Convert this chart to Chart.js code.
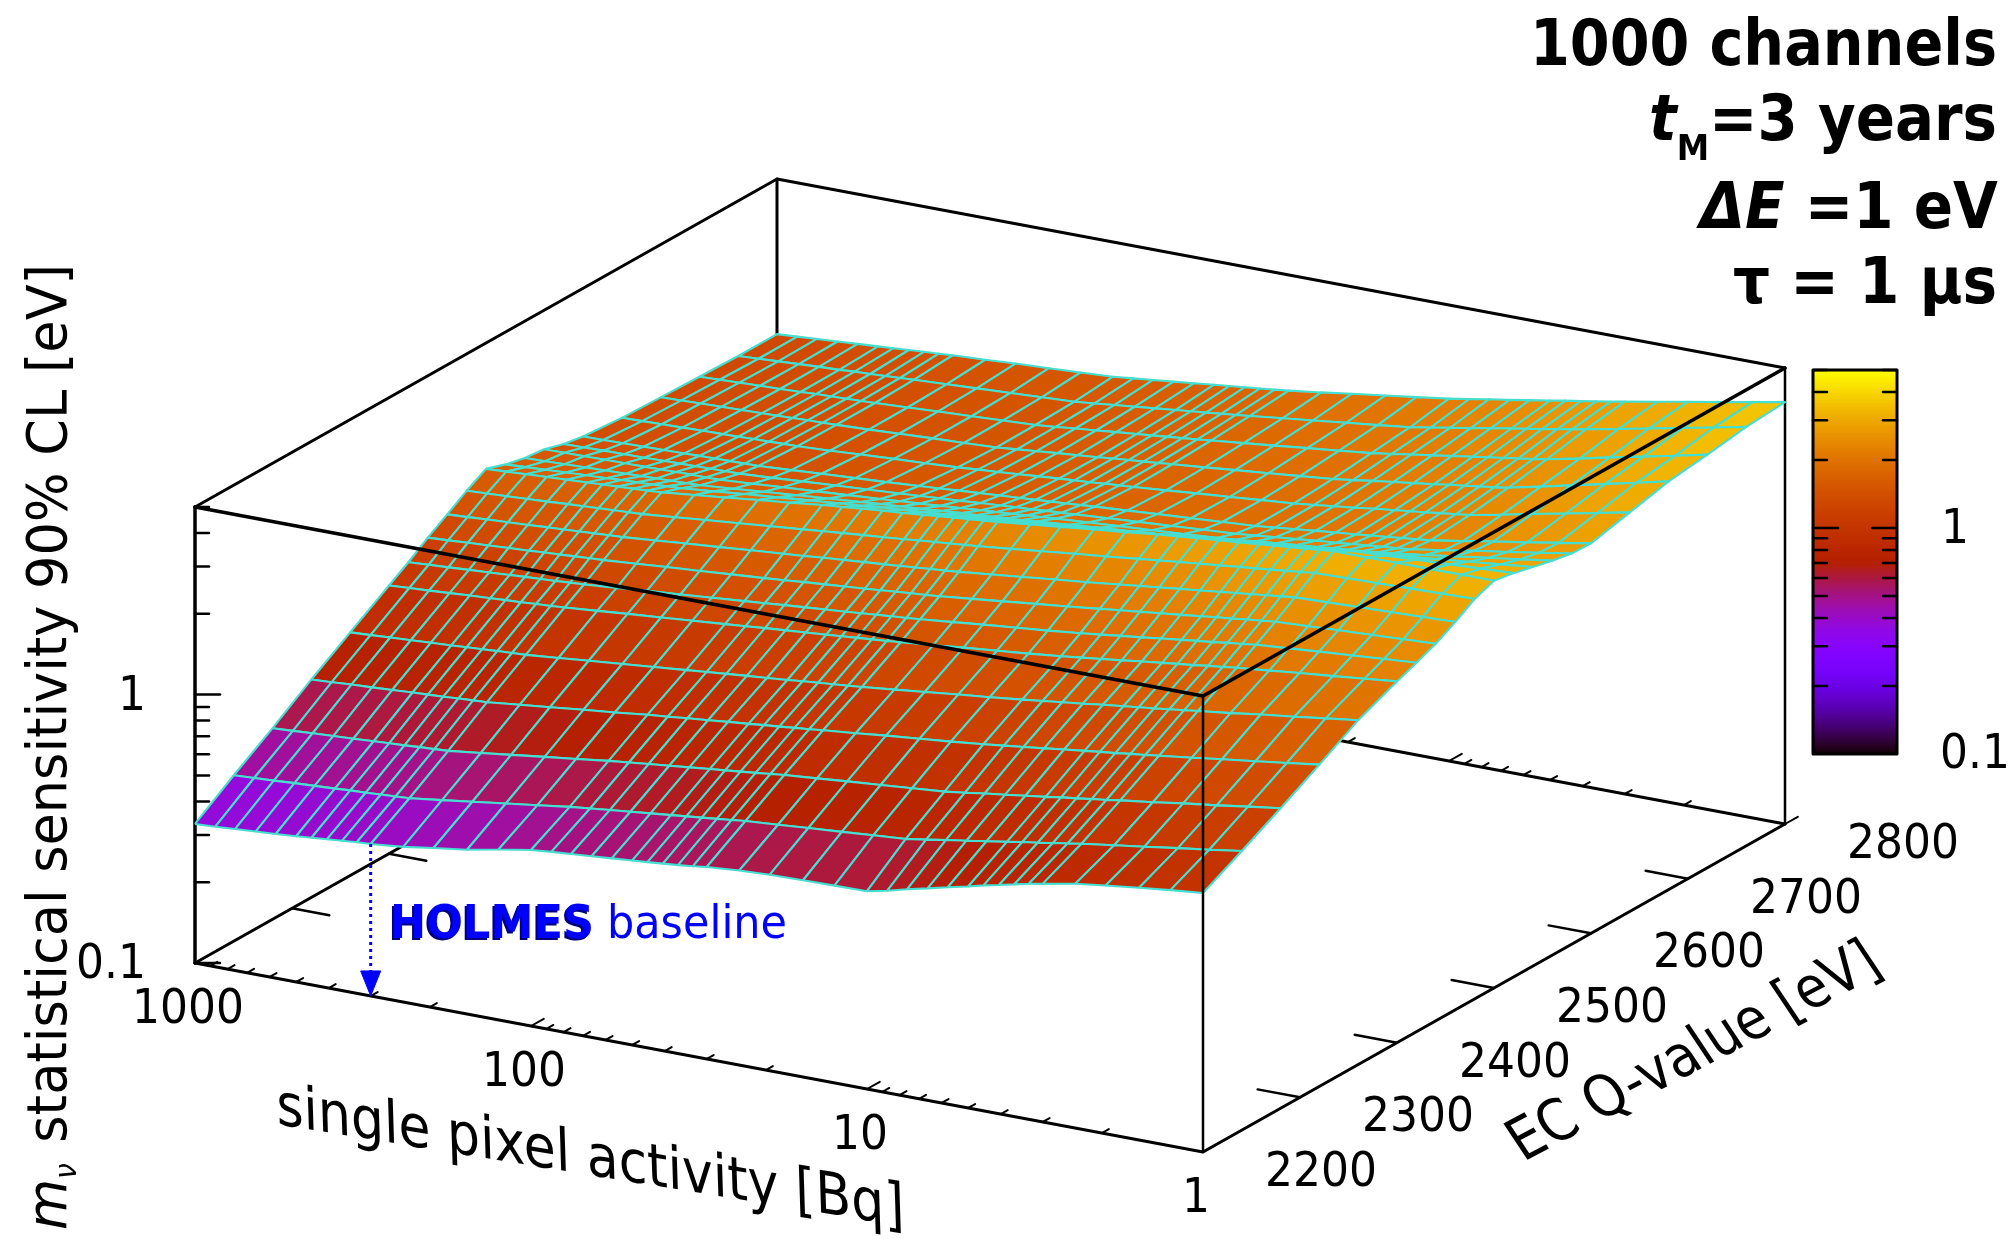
<!DOCTYPE html>
<html>
<head>
<meta charset="utf-8">
<style>html,body{margin:0;padding:0;background:#fff}canvas{display:block}</style>
<script src="https://cdn.jsdelivr.net/npm/chart.js@4/dist/chart.umd.js"></script>
</head>
<body>
<canvas id="c" width="2013" height="1239"></canvas>
<script>
// ---- data ----
const activityBq = [1000,870,760,660,575,500,450,405,365,330,300,240,195,155,125,100,87,76,66,57.5,50,45,40.5,36.5,33,30,24,19.5,15.5,12.5,10,8.7,7.6,6.6,5.75,5,4.5,4.05,3.65,3.3,3,2.4,1.95,1.55,1.25,1];
const qValueEV = [2200,2240,2280,2320,2360,2400,2420,2440,2460,2480,2500,2520,2540,2560,2580,2600,2640,2680,2720,2760,2800];
// log10 of the sensitivity in eV: one row per Q value, one column per activity
const log10Sensitivity = [
[-.482,-.478,-.473,-.468,-.463,-.457,-.452,-.447,-.442,-.437,-.434,-.422,-.405,-.388,-.365,-.344,-.337,-.331,-.325,-.319,-.313,-.308,-.303,-.298,-.292,-.285,-.275,-.270,-.267,-.265,-.263,-.247,-.228,-.210,-.192,-.175,-.160,-.148,-.135,-.122,-.113,-.090,-.075,-.060,-.047,-.035],
[-.382,-.378,-.374,-.369,-.365,-.361,-.357,-.355,-.351,-.348,-.345,-.329,-.314,-.297,-.282,-.265,-.257,-.249,-.241,-.233,-.225,-.219,-.213,-.207,-.201,-.195,-.186,-.177,-.168,-.159,-.150,-.138,-.126,-.114,-.102,-.090,-.080,-.072,-.062,-.054,-.045,-.028,-.012,.006,.022,.040],
[-.288,-.284,-.279,-.275,-.271,-.266,-.263,-.260,-.256,-.253,-.250,-.235,-.221,-.205,-.191,-.175,-.167,-.159,-.151,-.143,-.135,-.129,-.123,-.117,-.111,-.105,-.095,-.085,-.075,-.065,-.055,-.045,-.034,-.024,-.014,-.004,.005,.012,.020,.027,.035,.051,.068,.084,.101,.118],
[-.188,-.184,-.179,-.175,-.171,-.166,-.163,-.160,-.156,-.153,-.150,-.137,-.125,-.111,-.099,-.085,-.078,-.070,-.063,-.055,-.048,-.042,-.037,-.031,-.026,-.020,-.008,.004,.016,.027,.040,.049,.058,.067,.077,.086,.093,.099,.107,.113,.120,.135,.151,.167,.182,.199],
[-.094,-.090,-.085,-.081,-.076,-.072,-.068,-.065,-.061,-.058,-.055,-.044,-.033,-.022,-.011,.000,.007,.014,.021,.027,.034,.040,.045,.050,.055,.060,.073,.085,.099,.111,.125,.134,.143,.152,.162,.171,.178,.184,.192,.198,.205,.220,.236,.251,.267,.283],
[-.001,.004,.008,.013,.018,.022,.026,.029,.033,.036,.040,.050,.060,.070,.080,.090,.096,.103,.109,.115,.121,.126,.131,.136,.140,.145,.157,.169,.181,.192,.205,.214,.223,.232,.242,.251,.258,.264,.272,.278,.285,.297,.309,.321,.333,.346],
[.045,.050,.054,.059,.063,.068,.072,.075,.078,.082,.085,.095,.105,.115,.125,.135,.141,.148,.154,.160,.166,.171,.176,.181,.185,.190,.202,.214,.226,.237,.250,.259,.268,.277,.287,.296,.303,.309,.317,.323,.330,.339,.348,.357,.366,.375],
[.096,.100,.105,.109,.114,.118,.122,.125,.129,.132,.135,.144,.153,.162,.171,.180,.186,.193,.199,.205,.211,.216,.221,.226,.230,.235,.248,.260,.274,.286,.300,.309,.317,.326,.334,.343,.350,.356,.363,.369,.375,.381,.387,.393,.399,.405],
[.142,.146,.151,.155,.159,.164,.167,.170,.174,.177,.180,.190,.200,.210,.220,.230,.236,.243,.249,.255,.261,.266,.271,.276,.280,.285,.298,.310,.324,.336,.350,.359,.367,.376,.384,.393,.400,.406,.413,.419,.425,.429,.433,.437,.441,.445],
[.189,.193,.197,.201,.205,.210,.213,.216,.219,.222,.225,.236,.247,.258,.269,.280,.287,.294,.301,.307,.314,.320,.325,.330,.335,.340,.353,.365,.379,.391,.405,.413,.421,.429,.437,.445,.451,.457,.463,.469,.475,.478,.481,.484,.487,.490],
[.230,.234,.238,.242,.246,.250,.253,.256,.259,.262,.265,.278,.290,.304,.316,.330,.337,.344,.351,.357,.364,.370,.375,.380,.385,.390,.403,.415,.429,.441,.455,.462,.469,.476,.482,.489,.495,.500,.505,.510,.515,.515,.516,.516,.517,.517],
[.206,.210,.214,.218,.222,.225,.229,.231,.234,.237,.240,.251,.262,.273,.284,.295,.301,.308,.314,.320,.326,.331,.336,.341,.345,.350,.362,.374,.386,.397,.410,.417,.425,.432,.440,.447,.453,.458,.464,.469,.475,.481,.487,.493,.499,.505],
[.189,.191,.194,.196,.199,.201,.203,.205,.207,.208,.210,.220,.230,.240,.250,.260,.266,.271,.277,.283,.289,.293,.297,.302,.306,.310,.320,.330,.340,.350,.360,.367,.375,.382,.390,.397,.403,.408,.414,.419,.425,.437,.449,.462,.474,.487],
[.181,.182,.183,.184,.185,.186,.187,.188,.189,.189,.190,.198,.206,.214,.222,.230,.236,.241,.247,.253,.259,.263,.267,.272,.276,.280,.288,.296,.304,.312,.320,.327,.335,.342,.350,.357,.363,.368,.374,.379,.385,.402,.418,.436,.452,.470],
[.160,.161,.163,.164,.165,.167,.168,.169,.170,.171,.172,.179,.187,.195,.202,.210,.215,.220,.225,.231,.236,.240,.243,.248,.251,.255,.263,.271,.279,.287,.295,.302,.310,.317,.325,.332,.338,.343,.349,.354,.360,.379,.398,.417,.436,.456],
[.147,.148,.150,.151,.153,.154,.156,.157,.158,.159,.160,.167,.175,.182,.189,.197,.202,.208,.213,.218,.223,.227,.231,.235,.239,.243,.251,.259,.267,.275,.283,.291,.299,.307,.315,.322,.329,.334,.341,.346,.352,.372,.392,.412,.432,.453],
[.135,.137,.139,.141,.143,.145,.146,.148,.149,.151,.152,.158,.165,.172,.178,.185,.191,.196,.202,.208,.214,.218,.222,.227,.231,.235,.245,.255,.265,.275,.285,.294,.303,.312,.322,.331,.338,.344,.352,.358,.365,.389,.413,.438,.462,.487],
[.130,.132,.135,.137,.139,.141,.143,.145,.147,.148,.150,.155,.161,.167,.172,.178,.185,.192,.199,.205,.212,.218,.223,.228,.233,.238,.249,.260,.272,.283,.295,.305,.316,.326,.336,.346,.355,.362,.370,.377,.385,.412,.438,.466,.493,.521],
[.125,.128,.131,.134,.136,.139,.142,.144,.146,.148,.150,.156,.162,.168,.174,.180,.187,.195,.202,.210,.217,.223,.228,.234,.239,.245,.258,.270,.284,.296,.310,.321,.333,.344,.356,.367,.376,.384,.393,.401,.410,.435,.461,.487,.512,.539],
[.121,.125,.129,.133,.137,.140,.144,.146,.149,.152,.155,.161,.167,.173,.179,.185,.193,.201,.209,.217,.225,.231,.237,.243,.249,.255,.269,.282,.297,.310,.325,.338,.351,.364,.378,.391,.401,.410,.421,.430,.440,.464,.487,.512,.536,.561],
[.121,.126,.131,.136,.141,.146,.150,.154,.158,.161,.165,.171,.178,.184,.190,.197,.205,.213,.221,.229,.238,.244,.250,.256,.262,.268,.284,.300,.317,.333,.350,.363,.376,.388,.401,.414,.424,.433,.443,.452,.462,.484,.505,.527,.549,.572]
];
const activityMajorTicks = [1000,100,10,1];
const activityMinorTicks = [900,800,700,600,500,400,300,200,90,80,70,60,50,40,30,20,9,8,7,6,5,4,3,2];
const qTicks = [2200,2300,2400,2500,2600,2700,2800];
const zMajorTicks = [0.1,1];
const zMinorTicks = [0.2,0.3,0.4,0.5,0.6,0.7,0.8,0.9,2,3,4,5];
const baselineActivity = 300;

// ---- projection of the 3D box onto the scale coordinates ----
const Z_MIN = -1, Z_SPAN = Math.log10(50);
const aFrac = A => (3 - Math.log10(A)) / 3;
const qFrac = Q => (Q - 2200) / 600;
const zFrac = L => (L - Z_MIN) / Z_SPAN;
const P = (a, q, L) => ({ x: 195 + 1008*a + 582*q, y: 963 + 189*a - 328*q - 456*zFrac(L) });
const BOT = Z_MIN, TOP = Z_MIN + Z_SPAN;

function palette(z){
  z = Math.max(0, Math.min(1, z));
  const r = Math.sqrt(z), g = z*z*z, b = Math.max(0, Math.sin(2*Math.PI*z));
  return `rgb(${Math.round(r*255)},${Math.round(g*255)},${Math.round(b*255)})`;
}

const layers = [];
function seg(points, color, width, dash){
  layers.push({ data: points, showLine: true, fill: false, borderColor: color, borderWidth: width,
    borderDash: dash || [], pointRadius: 0, tension: 0, borderCapStyle: 'round', borderJoinStyle: 'round', clip: false });
}
function poly(points, fillColor, borderColor, width){
  layers.push({ data: points.concat([points[0]]), showLine: true, fill: 'shape', backgroundColor: fillColor,
    borderColor: borderColor, borderWidth: width, pointRadius: 0, tension: 0, borderJoinStyle: 'round', clip: false });
}
const BLACK = '#000';

// back of the box (behind the surface)
seg([P(0,0,TOP), P(0,1,TOP), P(1,1,TOP)], BLACK, 3);
seg([P(0,1,BOT), P(0,1,TOP)], BLACK, 3);
seg([P(1,1,BOT), P(1,1,TOP)], BLACK, 2.5);
seg([P(0,0,BOT), P(0,0,TOP)], BLACK, 3.5);
seg([P(0,0,BOT), P(0,1,BOT), P(1,1,BOT)], BLACK, 3);
// ticks on the hidden base edges
qTicks.slice(1,-1).forEach(Q => { const q = qFrac(Q); seg([P(0,q,BOT), P(0.037,q,BOT)], BLACK, 2.5); });
activityMajorTicks.forEach(A => { const a = aFrac(A); seg([P(a,1,BOT), P(a,1.022,BOT)], BLACK, 2); });
activityMinorTicks.forEach(A => { const a = aFrac(A); seg([P(a,1,BOT), P(a,1.012,BOT)], BLACK, 2); });
// z axis ticks
zMajorTicks.forEach(v => { const p = P(0,0,Math.log10(v)); seg([p, {x:p.x+25,y:p.y}], BLACK, 2.5); });
zMinorTicks.forEach(v => { const p = P(0,0,Math.log10(v)); seg([p, {x:p.x+14,y:p.y}], BLACK, 2.5); });

// surface: painted from the far rows to the near rows
const MESH = 'rgb(70,222,208)';
for (let r = qValueEV.length - 2; r >= 0; r--) {
  for (let c = 0; c < activityBq.length - 1; c++) {
    const q0 = qFrac(qValueEV[r]), q1 = qFrac(qValueEV[r+1]);
    const a0 = aFrac(activityBq[c]), a1 = aFrac(activityBq[c+1]);
    const l00 = log10Sensitivity[r][c], l01 = log10Sensitivity[r][c+1],
          l10 = log10Sensitivity[r+1][c], l11 = log10Sensitivity[r+1][c+1];
    const color = palette(zFrac((l00+l01+l10+l11)/4));
    poly([P(a0,q0,l00), P(a1,q0,l01), P(a1,q1,l11), P(a0,q1,l10)], color, MESH, 2.1);
  }
}

// front of the box
seg([P(0,0,TOP), P(1,0,TOP), P(1,1,TOP)], BLACK, 3.5);
seg([P(1,0,BOT), P(1,0,TOP)], BLACK, 2.5);
seg([P(0,0,BOT), P(1,0,BOT), P(1,1,BOT)], BLACK, 3);
qTicks.slice(1,-1).forEach(Q => { const q = qFrac(Q); seg([P(1,q,BOT), P(0.958,q,BOT)], BLACK, 2.5); });
activityMajorTicks.forEach(A => { const a = aFrac(A); seg([P(a,0,BOT), P(a,0.022,BOT)], BLACK, 2); });
activityMinorTicks.forEach(A => { const a = aFrac(A); seg([P(a,0,BOT), P(a,0.012,BOT)], BLACK, 2); });

// HOLMES baseline arrow
{
  const a = aFrac(baselineActivity);
  const start = P(a, 0, log10Sensitivity[0][activityBq.indexOf(baselineActivity)]);
  const tip = P(a, 0, BOT);
  layers.push({ data: [start, {x:tip.x, y:tip.y-22}], showLine:true, fill:false, borderColor:'#0000ff', borderWidth:3,
    borderDash:[3,4], pointRadius:0, clip:false });
  poly([tip, {x:tip.x-10,y:tip.y-25}, {x:tip.x+10,y:tip.y-25}], '#0000ff', '#0000ff', 1);
}

// colour bar
const CB = { x0: 1813, x1: 1897, y0: 754, y1: 370 };
const cbY = L => CB.y0 - zFrac(L) * (CB.y0 - CB.y1);
const CB_STEPS = 128;
for (let i = 0; i < CB_STEPS; i++) {
  const l0 = BOT + Z_SPAN * i / CB_STEPS, l1 = BOT + Z_SPAN * (i + 1) / CB_STEPS;
  const col = palette((i + 0.5) / CB_STEPS);
  poly([{x:CB.x0,y:cbY(l0)},{x:CB.x1,y:cbY(l0)},{x:CB.x1,y:cbY(l1)},{x:CB.x0,y:cbY(l1)}], col, col, 1);
}
poly([{x:CB.x0,y:CB.y0},{x:CB.x1,y:CB.y0},{x:CB.x1,y:CB.y1},{x:CB.x0,y:CB.y1}], 'rgba(0,0,0,0)', BLACK, 3);
[[zMajorTicks.slice(1), 25],[zMinorTicks, 14]].forEach(([vals, len]) => vals.forEach(v => {
  const y = cbY(Math.log10(v));
  seg([{x:CB.x0,y},{x:CB.x0+len,y}], BLACK, 2.5);
  seg([{x:CB.x1,y},{x:CB.x1-len,y}], BLACK, 2.5);
}));

// ---- text ----
const F = 'DejaVu Sans';
function runs(ctx, list, m){
  let w = 0;
  list.forEach(r => { ctx.font = r.font; w += ctx.measureText(r.text).width + (r.gap || 0); });
  const k = m.width ? m.width / w : 1;
  ctx.save();
  ctx.transform(m.a * k, m.b * k, m.c, m.d, m.x, m.y);
  ctx.textBaseline = 'alphabetic';
  ctx.textAlign = 'left';
  ctx.fillStyle = m.color || '#000';
  let u = 0;
  list.forEach(r => {
    ctx.font = r.font;
    ctx.fillText(r.text, u, r.dy || 0);
    u += ctx.measureText(r.text).width + (r.gap || 0);
  });
  ctx.restore();
}
function straight(ctx, text, font, x, baseline, align, sy, color){
  ctx.save();
  ctx.translate(x, baseline);
  ctx.scale(1, sy || 1);
  ctx.font = font; ctx.textAlign = align; ctx.textBaseline = 'alphabetic';
  ctx.fillStyle = color || '#000';
  ctx.fillText(text, 0, 0);
  ctx.restore();
}

const textPlugin = {
  id: 'texts',
  afterDatasetsDraw(chart){
    const ctx = chart.ctx;
    const tick = `44px "${F}"`;
    activityMajorTicks.forEach(A => {
      const p = P(aFrac(A), 0, BOT);
      straight(ctx, String(A), tick, p.x - 7, p.y + 60, 'center', 1.1);
    });
    qTicks.forEach(Q => {
      const p = P(1, qFrac(Q), BOT);
      straight(ctx, String(Q), tick, p.x + 118, p.y + 34, 'center', 1.1);
    });
    zMajorTicks.forEach(v => {
      const p = P(0, 0, Math.log10(v));
      straight(ctx, String(v), tick, 146, p.y + 15, 'right', 1.1);
    });
    straight(ctx, '1', tick, 1941, cbY(0) + 15, 'left', 1.1);
    straight(ctx, '0.1', tick, 1940, cbY(-1) + 14, 'left', 1.1);

    // axis titles
    runs(ctx, [{text:'single pixel activity [Bq]', font:`46px "${F}"`}],
      {a:1, b:0.163, c:0.04, d:1.28, x:277, y:1124, width:628});
    runs(ctx, [{text:'EC Q-value [eV]', font:`46px "${F}"`}],
      {a:1, b:-0.525, c:0.72, d:1.08, x:1523, y:1162, width:362});
    runs(ctx, [
        {text:'m', font:`italic 56px "${F}"`},
        {text:'ν', font:`italic 30px "${F}"`, dy:10, gap:4},
        {text:' statistical sensitivity 90% CL [eV]', font:`56px "${F}"`}
      ], {a:0, b:-1, c:1, d:0, x:66, y:1230, width:966});

    // top-right annotation
    const big = `bold 64px "${F}"`, bigI = `italic bold 64px "${F}"`;
    runs(ctx, [{text:'1000 channels', font:big}], {a:1,b:0,c:0,d:1,x:1530,y:65,width:467});
    runs(ctx, [{text:'t', font:bigI},{text:'M', font:`bold 36px "${F}"`, dy:20},{text:'=3 years', font:big}],
      {a:1,b:0,c:0,d:1,x:1649,y:140,width:348});
    runs(ctx, [{text:'ΔE', font:bigI},{text:' =1 eV', font:big}], {a:1,b:0,c:0,d:1,x:1700,y:228,width:298});
    runs(ctx, [{text:'τ = 1 μs', font:big}], {a:1,b:0,c:0,d:1,x:1733,y:303,width:264});

    // HOLMES baseline
    runs(ctx, [{text:'HOLMES', font:`bold 42px "${F}"`}], {a:1,b:0,c:0,d:1.08,x:388,y:940,width:204,color:'#00007a'});
    runs(ctx, [{text:'HOLMES', font:`bold 42px "${F}"`}], {a:1,b:0,c:0,d:1.08,x:390,y:938,width:204,color:'#0000ff'});
    runs(ctx, [{text:'baseline', font:`42px "${F}"`}], {a:1,b:0,c:0,d:1.08,x:607,y:938,width:180,color:'#0000ff'});
  }
};

new Chart(document.getElementById('c'), {
  type: 'scatter',
  data: { datasets: layers.slice().reverse() },
  plugins: [textPlugin],
  options: {
    responsive: false, animation: false, events: [],
    layout: { padding: 0 },
    plugins: { legend: { display: false }, tooltip: { enabled: false }, title: { display: false } },
    scales: {
      x: { type: 'linear', min: 0, max: 2013, display: false },
      y: { type: 'linear', min: 0, max: 1239, reverse: true, display: false }
    }
  }
});
</script>
</body>
</html>
